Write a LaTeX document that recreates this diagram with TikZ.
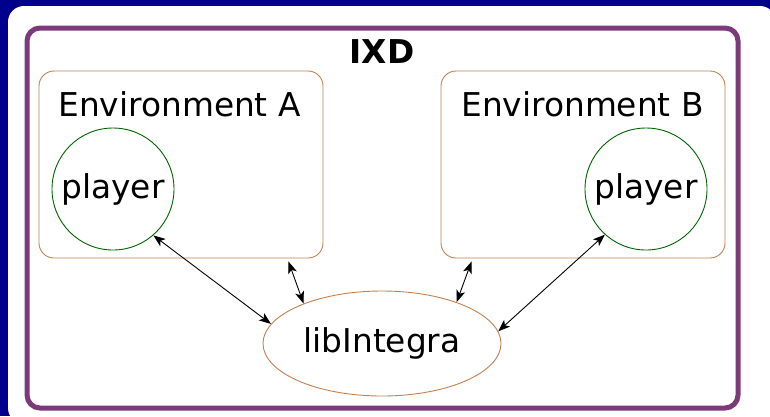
\documentclass[tikz,border=0pt]{standalone}
\usepackage{fontspec}
\setmainfont{DejaVu Sans}
\usetikzlibrary{arrows.meta,shapes.geometric,calc}
\definecolor{navybg}{RGB}{0,0,140}
\definecolor{framepurple}{RGB}{125,58,120}
\definecolor{boxbrown}{RGB}{196,128,80}
\definecolor{playergreen}{RGB}{0,100,0}
\begin{document}
\begin{tikzpicture}[x=1pt,y=-1pt,
  bigtext/.style={font=\fontsize{32.8}{38}\selectfont},
  envbox/.style={draw=boxbrown, line width=0.9pt, rounded corners=15pt,
    minimum width=284pt, minimum height=187pt, inner sep=0pt},
  envtitle/.style={bigtext, anchor=base, inner sep=0pt},
  playernode/.style={circle, draw=playergreen, line width=0.9pt,
    minimum size=122pt, inner sep=0pt, bigtext},
  libnode/.style={ellipse, draw=boxbrown, line width=0.9pt,
    minimum width=238pt, minimum height=105pt, inner sep=0pt, bigtext},
  link/.style={draw=black, line width=0.9pt,
    {Stealth[length=12pt,width=9pt,inset=3pt]}-{Stealth[length=12pt,width=9pt,inset=3pt]}}
]
% page background and white card
\fill[navybg] (0,0) rectangle (770,416);
\useasboundingbox (0,0) rectangle (770,416);
\fill[white, rounded corners=16pt] (8,6) rectangle (776,424);
% IXD frame
\draw[framepurple, line width=5pt, rounded corners=13pt] (27,28) rectangle (738,408);
\node[bigtext, font=\fontsize{32.8}{38}\selectfont\bfseries, anchor=base, inner sep=0pt] (ixd) at (382,63) {IXD};

% environments
\node[envbox] (envA) at (181,164.5) {};
\node[envbox] (envB) at (583,164.5) {};
\node[envtitle] (titleA) at (179.5,116) {Environment A};
\node[envtitle] (titleB) at (582.5,116) {Environment B};

% players
\node[playernode] (playerA) at (113,189) {player};
\node[playernode] (playerB) at (646,189) {player};

% library
\node[libnode] (lib) at (382,343.5) {libIntegra};

% links
\coordinate (envAport) at ($(envA.south east)+(-35,3)$);
\coordinate (envBport) at ($(envB.south west)+(31,3)$);
\draw[link] (playerA.-49.5) -- (lib.170);
\draw[link] (envAport) -- (lib.153);
\draw[link] (envBport) -- (lib.29);
\draw[link] (playerB.-132.5) -- (lib.6.3);
\end{tikzpicture}
\end{document}
